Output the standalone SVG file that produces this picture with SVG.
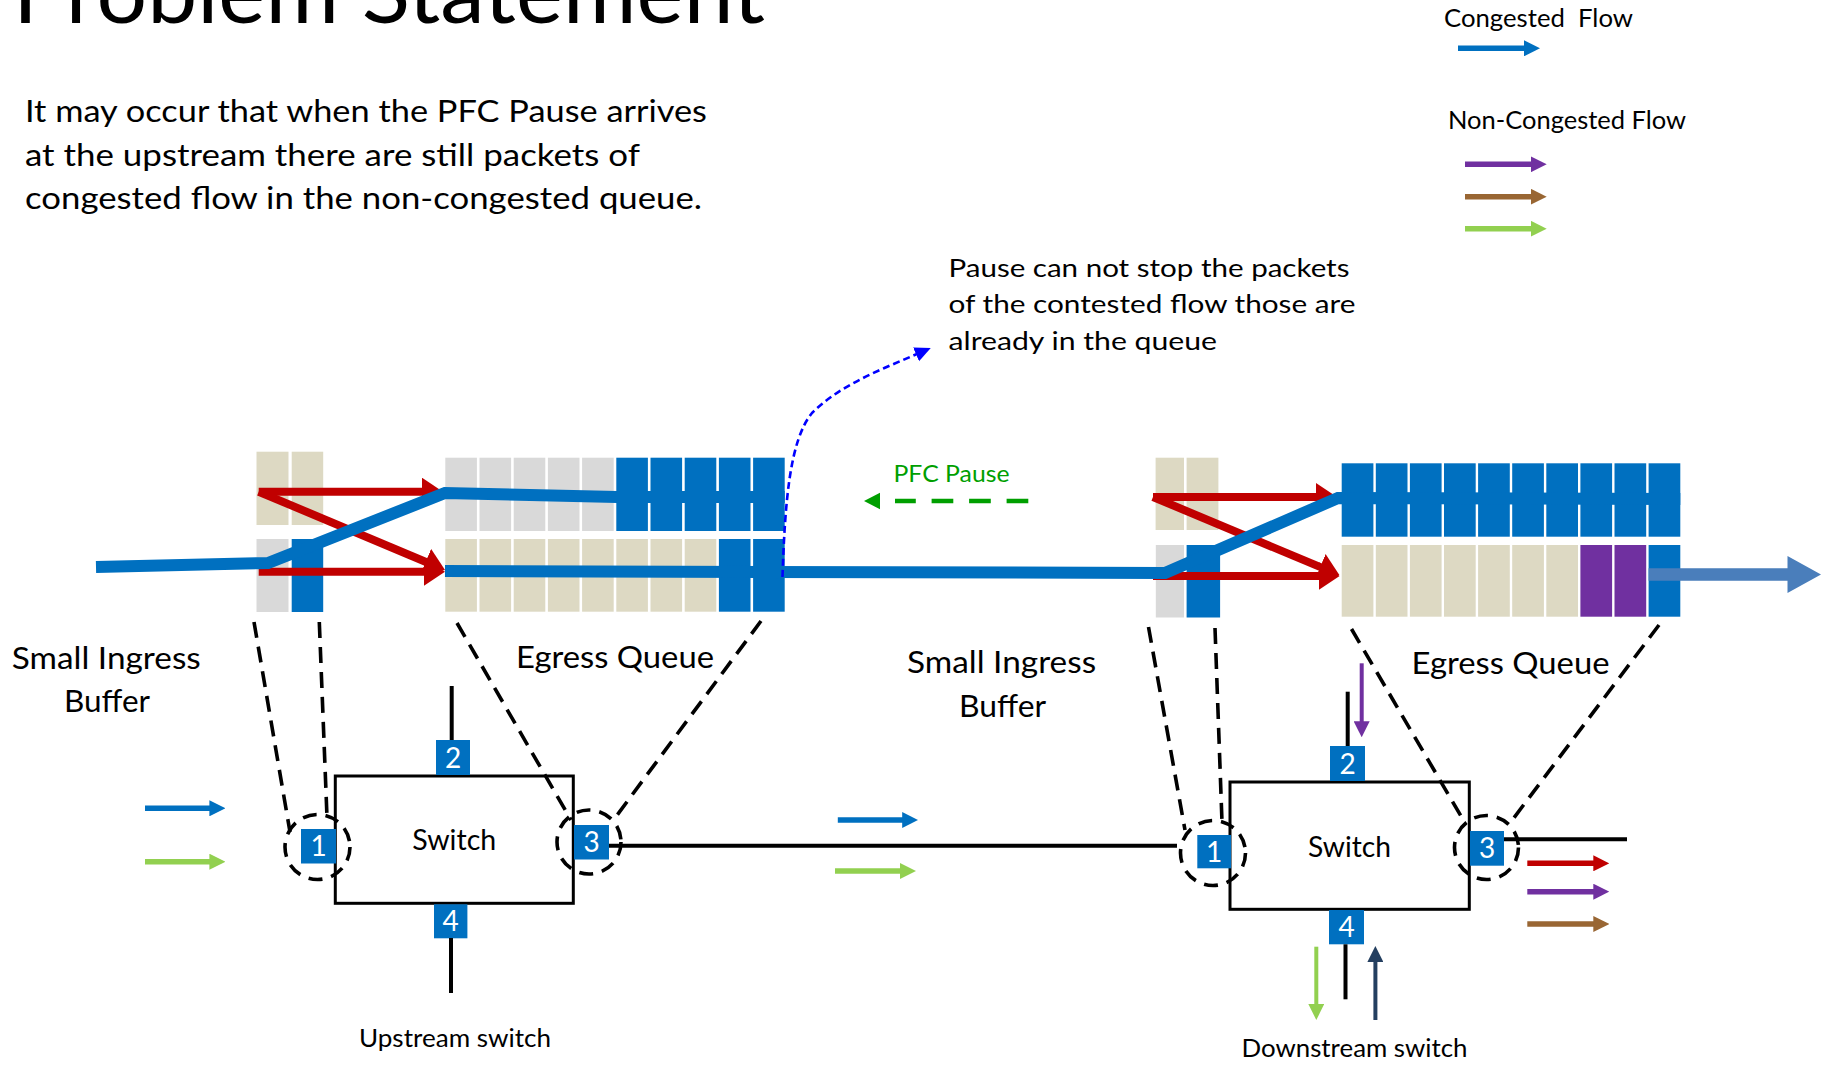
<svg xmlns="http://www.w3.org/2000/svg" width="1822" height="1065" viewBox="0 0 1822 1065">
  <style>
    text { font-family: Lato, "Liberation Sans", "DejaVu Sans", sans-serif; fill: #000; }
    .body { font-size: 30px; }
    .legend { font-size: 25px; }
    .note { font-size: 25.5px; }
    .label { font-size: 31.5px; }
    .sw { font-size: 28px; }
    .cap { font-size: 24.7px; }
    .pfc { font-size: 24px; fill: #009f00; }
    .tan { fill: #ddd9c3; }
    .gray { fill: #d9d9d9; }
    .blue { fill: #0070c0; }
    .purple { fill: #7030a0; }
    .box { fill: #fff; stroke: #000; stroke-width: 3; }
    .port rect { fill: #0070c0; }
    .port text { fill: #fff; font-size: 28px; text-anchor: middle; }
    .lead { fill: none; stroke: #000; stroke-width: 3.6; stroke-dasharray: 16 9; }
    .ring { fill: none; stroke: #000; stroke-width: 3.6; stroke-dasharray: 14 9; }
    .wire { stroke: #000; stroke-width: 4; fill: none; }
    .flow { fill: none; stroke: #0070c0; stroke-width: 12; stroke-linejoin: miter; }
    .red { stroke: #c00000; stroke-width: 8; fill: none; marker-end: url(#ah-red-big); }
    .arr { stroke-width: 5.5; fill: none; }
    .varr { stroke-width: 4; fill: none; }
  </style>
  <defs>
    <marker id="ah-red-big" markerUnits="userSpaceOnUse" viewBox="0 -14 21 28" markerWidth="21" markerHeight="28" refX="1" refY="0" orient="auto">
      <path d="M0,-14 L21,0 L0,14 z" fill="#c00000"/>
    </marker>
    <marker id="ah-blue" markerUnits="userSpaceOnUse" viewBox="0 -8 16 16" markerWidth="16" markerHeight="16" refX="1" refY="0" orient="auto">
      <path d="M0,-8 L16,0 L0,8 z" fill="#0070c0"/>
    </marker>
    <marker id="ah-green" markerUnits="userSpaceOnUse" viewBox="0 -8 16 16" markerWidth="16" markerHeight="16" refX="1" refY="0" orient="auto">
      <path d="M0,-8 L16,0 L0,8 z" fill="#92d050"/>
    </marker>
    <marker id="ah-red" markerUnits="userSpaceOnUse" viewBox="0 -8 16 16" markerWidth="16" markerHeight="16" refX="1" refY="0" orient="auto">
      <path d="M0,-8 L16,0 L0,8 z" fill="#c00000"/>
    </marker>
    <marker id="ah-purple" markerUnits="userSpaceOnUse" viewBox="0 -8 16 16" markerWidth="16" markerHeight="16" refX="1" refY="0" orient="auto">
      <path d="M0,-8 L16,0 L0,8 z" fill="#7030a0"/>
    </marker>
    <marker id="ah-brown" markerUnits="userSpaceOnUse" viewBox="0 -8 16 16" markerWidth="16" markerHeight="16" refX="1" refY="0" orient="auto">
      <path d="M0,-8 L16,0 L0,8 z" fill="#996633"/>
    </marker>
    <marker id="ah-navy" markerUnits="userSpaceOnUse" viewBox="0 -8 16 16" markerWidth="16" markerHeight="16" refX="1" refY="0" orient="auto">
      <path d="M0,-8 L16,0 L0,8 z" fill="#243f60"/>
    </marker>
    <marker id="ah-pure-blue" markerUnits="userSpaceOnUse" viewBox="0 -8 16 16" markerWidth="16" markerHeight="16" refX="1" refY="0" orient="auto">
      <path d="M0,-7.5 L16,0 L0,7.5 z" fill="#0000ff"/>
    </marker>
  </defs>

  <rect width="1822" height="1065" fill="#fff"/>

  <!-- heading (runs off the top edge) and explanation -->
  <g id="title">
    <text x="13" y="23.3" font-size="85" textLength="752" lengthAdjust="spacingAndGlyphs">Problem Statement</text>
  </g>
  <g id="description" class="body">
    <text x="25" y="121.7" textLength="682" lengthAdjust="spacingAndGlyphs">It may occur that when the PFC Pause arrives</text>
    <text x="25" y="165.7" textLength="615" lengthAdjust="spacingAndGlyphs">at the upstream there are still packets of</text>
    <text x="25" y="209.3" textLength="677" lengthAdjust="spacingAndGlyphs">congested flow in the non-congested queue.</text>
  </g>

  <!-- legend -->
  <g id="legend">
    <text class="legend" x="1444" y="26.7" textLength="189" lengthAdjust="spacingAndGlyphs">Congested&#160; Flow</text>
    <line class="arr" x1="1458" y1="48.3" x2="1525" y2="48.3" stroke="#0070c0" marker-end="url(#ah-blue)"/>
    <text class="legend" x="1448" y="129.3" textLength="238" lengthAdjust="spacingAndGlyphs">Non-Congested Flow</text>
    <line class="arr" x1="1465" y1="164.3" x2="1531.7" y2="164.3" stroke="#7030a0" marker-end="url(#ah-purple)"/>
    <line class="arr" x1="1465" y1="196.7" x2="1531.7" y2="196.7" stroke="#996633" marker-end="url(#ah-brown)"/>
    <line class="arr" x1="1465" y1="228.7" x2="1531.7" y2="228.7" stroke="#92d050" marker-end="url(#ah-green)"/>
  </g>

  <!-- annotation -->
  <g id="annotation" class="note">
    <text x="948.5" y="276.7" textLength="401" lengthAdjust="spacingAndGlyphs">Pause can not stop the packets</text>
    <text x="948.5" y="313.3" textLength="407" lengthAdjust="spacingAndGlyphs">of the contested flow those are</text>
    <text x="948.5" y="350" textLength="268.5" lengthAdjust="spacingAndGlyphs">already in the queue</text>
  </g>

  <g id="pfc-pause">
    <text class="pfc" x="893.5" y="481.7" textLength="116" lengthAdjust="spacingAndGlyphs">PFC Pause</text>
  </g>

  <!-- upstream ingress buffer -->
  <g id="upstream-ingress">
    <rect class="tan" x="256.5" y="451.7" width="32" height="73.3"/>
    <rect class="tan" x="291.7" y="451.7" width="31.5" height="73.3"/>
    <rect class="gray" x="256.5" y="539" width="32" height="73"/>
    <rect class="blue" x="291.7" y="539" width="31.5" height="73"/>
    <text class="label" x="106.3" y="669.3" text-anchor="middle" textLength="189" lengthAdjust="spacingAndGlyphs">Small Ingress</text>
    <text class="label" x="107" y="711.7" text-anchor="middle" textLength="86" lengthAdjust="spacingAndGlyphs">Buffer</text>
  </g>

  <!-- upstream egress queues -->
  <g id="upstream-egress">
    <rect class="gray" x="445.3" y="457.7" width="31.6" height="73.3"/>
    <rect class="gray" x="479.5" y="457.7" width="31.6" height="73.3"/>
    <rect class="gray" x="513.7" y="457.7" width="31.6" height="73.3"/>
    <rect class="gray" x="547.9" y="457.7" width="31.6" height="73.3"/>
    <rect class="gray" x="582.1" y="457.7" width="31.6" height="73.3"/>
    <rect class="blue" x="616.3" y="457.7" width="31.6" height="73.3"/>
    <rect class="blue" x="650.5" y="457.7" width="31.6" height="73.3"/>
    <rect class="blue" x="684.7" y="457.7" width="31.6" height="73.3"/>
    <rect class="blue" x="718.9" y="457.7" width="31.6" height="73.3"/>
    <rect class="blue" x="753.1" y="457.7" width="31.6" height="73.3"/>

    <rect class="tan" x="445.3" y="539" width="31.6" height="72.7"/>
    <rect class="tan" x="479.5" y="539" width="31.6" height="72.7"/>
    <rect class="tan" x="513.7" y="539" width="31.6" height="72.7"/>
    <rect class="tan" x="547.9" y="539" width="31.6" height="72.7"/>
    <rect class="tan" x="582.1" y="539" width="31.6" height="72.7"/>
    <rect class="tan" x="616.3" y="539" width="31.6" height="72.7"/>
    <rect class="tan" x="650.5" y="539" width="31.6" height="72.7"/>
    <rect class="tan" x="684.7" y="539" width="31.6" height="72.7"/>
    <rect class="blue" x="718.9" y="539" width="31.6" height="72.7"/>
    <rect class="blue" x="753.1" y="539" width="31.6" height="72.7"/>
    <text class="label" x="516" y="668.3" textLength="198" lengthAdjust="spacingAndGlyphs">Egress Queue</text>
  </g>

  <!-- downstream ingress buffer -->
  <g id="downstream-ingress">
    <rect class="tan" x="1155.6" y="457.7" width="28.4" height="72.3"/>
    <rect class="tan" x="1186.6" y="457.7" width="31.8" height="72.3"/>
    <rect class="gray" x="1155.8" y="545" width="28.2" height="72.5"/>
    <rect class="blue" x="1186.6" y="545" width="33.5" height="72.5"/>
    <text class="label" x="1001.6" y="673.3" text-anchor="middle" textLength="189" lengthAdjust="spacingAndGlyphs">Small Ingress</text>
    <text class="label" x="1002.6" y="716.7" text-anchor="middle" textLength="87" lengthAdjust="spacingAndGlyphs">Buffer</text>
  </g>

  <!-- downstream egress queues -->
  <g id="downstream-egress">
    <rect class="blue" x="1341.7" y="463.3" width="31.7" height="73.4"/>
    <rect class="blue" x="1375.8" y="463.3" width="31.7" height="73.4"/>
    <rect class="blue" x="1409.9" y="463.3" width="31.7" height="73.4"/>
    <rect class="blue" x="1444" y="463.3" width="31.7" height="73.4"/>
    <rect class="blue" x="1478.1" y="463.3" width="31.7" height="73.4"/>
    <rect class="blue" x="1512.2" y="463.3" width="31.7" height="73.4"/>
    <rect class="blue" x="1546.3" y="463.3" width="31.7" height="73.4"/>
    <rect class="blue" x="1580.4" y="463.3" width="31.7" height="73.4"/>
    <rect class="blue" x="1614.5" y="463.3" width="31.7" height="73.4"/>
    <rect class="blue" x="1648.6" y="463.3" width="31.7" height="73.4"/>

    <rect class="tan" x="1341.7" y="545" width="31.7" height="71.7"/>
    <rect class="tan" x="1375.8" y="545" width="31.7" height="71.7"/>
    <rect class="tan" x="1409.9" y="545" width="31.7" height="71.7"/>
    <rect class="tan" x="1444" y="545" width="31.7" height="71.7"/>
    <rect class="tan" x="1478.1" y="545" width="31.7" height="71.7"/>
    <rect class="tan" x="1512.2" y="545" width="31.7" height="71.7"/>
    <rect class="tan" x="1546.3" y="545" width="31.7" height="71.7"/>
    <rect class="purple" x="1580.4" y="545" width="31.7" height="71.7"/>
    <rect class="purple" x="1614.5" y="545" width="31.7" height="71.7"/>
    <rect class="blue" x="1648.6" y="545" width="31.7" height="71.7"/>
    <text class="label" x="1411.5" y="674" textLength="198" lengthAdjust="spacingAndGlyphs">Egress Queue</text>
  </g>

  <!-- upstream switch -->
  <g id="upstream-switch">
    <rect class="box" x="335.3" y="776" width="238" height="127.3"/>
    <text class="sw" x="454.2" y="850" text-anchor="middle" textLength="84" lengthAdjust="spacingAndGlyphs">Switch</text>
    <g class="port"><rect x="301" y="829" width="35" height="34.5"/><text x="318.5" y="856.3">1</text></g>
    <g class="port"><rect x="436" y="740" width="34" height="35"/><text x="453" y="767.5">2</text></g>
    <g class="port"><rect x="574" y="825" width="35" height="34.5"/><text x="591.5" y="852.3">3</text></g>
    <g class="port"><rect x="434" y="904.3" width="33.4" height="34"/><text x="450.7" y="931.3">4</text></g>
    <circle class="ring" cx="317.5" cy="847" r="32.5"/>
    <circle class="ring" cx="589" cy="842" r="32"/>
    <text class="cap" x="359" y="1046.7" textLength="192" lengthAdjust="spacingAndGlyphs">Upstream switch</text>
  </g>

  <!-- downstream switch -->
  <g id="downstream-switch">
    <rect class="box" x="1230" y="782" width="239.3" height="127.3"/>
    <text class="sw" x="1349.5" y="856.7" text-anchor="middle" textLength="83" lengthAdjust="spacingAndGlyphs">Switch</text>
    <g class="port"><rect x="1197.3" y="835" width="33.7" height="33.3"/><text x="1214.2" y="861.7">1</text></g>
    <g class="port"><rect x="1330" y="746" width="35" height="35"/><text x="1347.5" y="773.5">2</text></g>
    <g class="port"><rect x="1470" y="831" width="34" height="34.7"/><text x="1487" y="858.3">3</text></g>
    <g class="port"><rect x="1329" y="910" width="35" height="34.3"/><text x="1346.5" y="937.2">4</text></g>
    <circle class="ring" cx="1213" cy="853" r="32.5"/>
    <circle class="ring" cx="1486.5" cy="847.5" r="32"/>
    <text class="cap" x="1241.5" y="1056.7" textLength="226" lengthAdjust="spacingAndGlyphs">Downstream switch</text>
  </g>

  <!-- links, flows and arrows -->
  <g id="connectors">
    <!-- forwarding decisions inside the switches -->
    <line class="red" x1="258.7" y1="491.7" x2="423" y2="491.7"/>
    <line class="red" x1="258.7" y1="491.7" x2="426.6" y2="562.2"/>
    <line class="red" x1="258.7" y1="571.7" x2="425" y2="571.7"/>
    <line class="red" x1="1153" y1="497" x2="1317" y2="497"/>
    <line class="red" x1="1153" y1="497" x2="1321.1" y2="567.4"/>
    <line class="red" x1="1153" y1="576" x2="1319.6" y2="576"/>

    <!-- congested flow path -->
    <path class="flow" d="M96,567 L268,563 L445,493 L617,497 L784.7,497"/>
    <path class="flow" d="M445,571 L1165,573 L1338,498 L1680.3,499"/>
    <path d="M1648.6,568.3 L1787.5,568.3 L1787.5,556 L1821,574.5 L1787.5,593 L1787.5,580.7 L1648.6,580.7 Z" fill="#4a7ebb"/>

    <!-- remark pointer -->
    <path d="M782.5,577 C785,500 790,440 812,413 C840,385 880,370 917,354" fill="none" stroke="#0000ff" stroke-width="2.6" stroke-dasharray="7 4" marker-end="url(#ah-pure-blue)"/>

    <!-- pause frame toward upstream -->
    <line x1="1028.3" y1="501" x2="895" y2="501" stroke="#009f00" stroke-width="4.7" stroke-dasharray="21.7 15.8"/>
    <path d="M864,501 L880,492.7 L880,509.3 Z" fill="#009f00"/>

    <!-- zoom leaders from buffers to ports -->
    <line class="lead" x1="254" y1="622" x2="290" y2="832"/>
    <line class="lead" x1="319.3" y1="622" x2="327" y2="817"/>
    <line class="lead" x1="457" y1="623" x2="571" y2="820"/>
    <line class="lead" x1="761" y1="621" x2="613.5" y2="820"/>
    <line class="lead" x1="1148.5" y1="627" x2="1185" y2="830"/>
    <line class="lead" x1="1215" y1="628" x2="1222" y2="822"/>
    <line class="lead" x1="1351.5" y1="629" x2="1465" y2="823"/>
    <line class="lead" x1="1659" y1="625" x2="1510" y2="823"/>

    <!-- switch wiring -->
    <line class="wire" x1="451.7" y1="686" x2="451.7" y2="740"/>
    <line class="wire" x1="451" y1="938" x2="451" y2="993"/>
    <line class="wire" x1="609" y1="845.7" x2="1177" y2="845.7"/>
    <line class="wire" x1="1347.7" y1="691.7" x2="1347.7" y2="746"/>
    <line class="wire" x1="1345.5" y1="944.3" x2="1345.5" y2="999.3"/>
    <line class="wire" x1="1504" y1="839.3" x2="1627" y2="839.3"/>

    <!-- traffic on each link -->
    <line class="arr" x1="145" y1="808.3" x2="210.4" y2="808.3" stroke="#0070c0" marker-end="url(#ah-blue)"/>
    <line class="arr" x1="145" y1="861.7" x2="210.4" y2="861.7" stroke="#92d050" marker-end="url(#ah-green)"/>
    <line class="arr" x1="837.8" y1="820" x2="903.2" y2="820" stroke="#0070c0" marker-end="url(#ah-blue)"/>
    <line class="arr" x1="835" y1="871" x2="901" y2="871" stroke="#92d050" marker-end="url(#ah-green)"/>
    <line class="arr" x1="1527.3" y1="863.3" x2="1594.3" y2="863.3" stroke="#c00000" marker-end="url(#ah-red)"/>
    <line class="arr" x1="1527.3" y1="891.7" x2="1594.3" y2="891.7" stroke="#7030a0" marker-end="url(#ah-purple)"/>
    <line class="arr" x1="1527.3" y1="924" x2="1594.3" y2="924" stroke="#996633" marker-end="url(#ah-brown)"/>
    <line class="varr" x1="1361.7" y1="663.3" x2="1361.7" y2="722.3" stroke="#7030a0" marker-end="url(#ah-purple)"/>
    <line class="varr" x1="1316.3" y1="946.7" x2="1316.3" y2="1005" stroke="#92d050" marker-end="url(#ah-green)"/>
    <line class="varr" x1="1375.4" y1="1020" x2="1375.4" y2="961" stroke="#243f60" marker-end="url(#ah-navy)"/>
  </g>
</svg>
